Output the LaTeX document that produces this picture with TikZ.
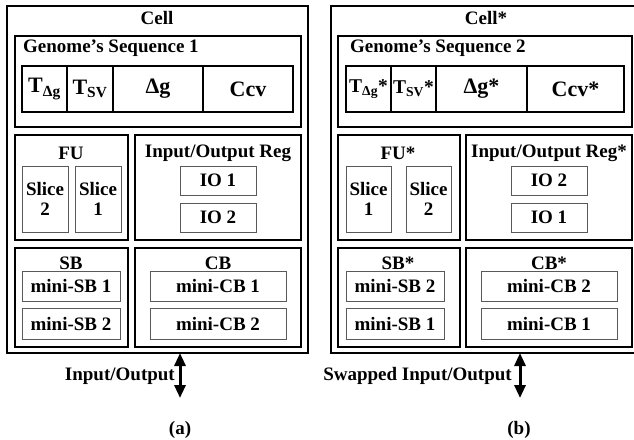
\documentclass[tikz,border=0pt]{standalone}
\usepackage{fontspec}
\setmainfont{Liberation Serif}
\usetikzlibrary{arrows.meta}
\newcommand\bx[6]{\node[#2,anchor=north west,minimum width={(#5-#3)*1pt},minimum height={(#6-#4)*1pt}] (#1) at (#3,#4) {};}
\begin{document}
\begin{tikzpicture}[x=1pt,y=-1pt,
  outerbox/.style={draw,line width=2.6pt,inner sep=0pt,outer sep=0pt},
  midbox/.style={draw,line width=1.8pt,inner sep=0pt,outer sep=0pt},
  thinbox/.style={draw=black!65,line width=1pt,inner sep=0pt,outer sep=0pt},
  lbl/.style={inner sep=0pt,font=\fontsize{19}{20}\selectfont\bfseries,align=center},
  big/.style={lbl,font=\fontsize{22}{23}\selectfont\bfseries},
  mid/.style={lbl,font=\fontsize{19.5}{21}\selectfont\bfseries},
  io/.style={line width=3pt,{Triangle[width=11pt,length=13pt]}-{Triangle[width=11pt,length=13pt]}}]
\useasboundingbox (0,0) rectangle (634,439);
\clip (0,0) rectangle (634,439);
% ---------- panel (a) ----------
\bx{cellA}{outerbox}{7}{6}{308}{353}
\node[lbl] (cellAt) at (157,18) {Cell};
\bx{genA}{midbox}{15}{36}{301}{127}
\node[lbl,anchor=west] (genAt) at (23,48) {Genome’s Sequence 1};
\bx{rowA1}{midbox}{22}{66}{67}{112}
\bx{rowA2}{midbox}{67}{66}{113}{112}
\bx{rowA3}{midbox}{113}{66}{203}{112}
\bx{rowA4}{midbox}{203}{66}{293}{112}
\node[big] (tA1) at (44.5,89) {T\textsubscript{Δg}};
\node[big] (tA2) at (90,89) {T\textsubscript{SV}};
\node[big] (tA3) at (158,89) {Δg};
\node[big] (tA4) at (248,89) {Ccv};
\bx{fuA}{midbox}{15}{135}{128}{240}
\node[lbl] (fuAt) at (71,153) {FU};
\bx{slA2}{thinbox}{22}{166}{68}{232}
\bx{slA1}{thinbox}{75}{166}{121}{232}
\node[lbl] (slA2t) at (45,199) {Slice\\2};
\node[lbl] (slA1t) at (98,199) {Slice\\1};
\bx{regA}{midbox}{135}{135}{301}{240}
\node[lbl] (regAt) at (218,153) {Input/Output Reg};
\bx{ioA1}{thinbox}{180}{166}{256}{195}
\bx{ioA2}{thinbox}{180}{203}{256}{232}
\node[lbl] (ioA1t) at (218,180.5) {IO 1};
\node[lbl] (ioA2t) at (218,217.5) {IO 2};
\bx{sbA}{midbox}{15}{248}{128}{347}
\node[lbl] (sbAt) at (71,263) {SB};
\bx{msA1}{thinbox}{22}{271}{120}{301}
\bx{msA2}{thinbox}{22}{308}{120}{339}
\node[lbl] (msA1t) at (71,286) {mini-SB 1};
\node[lbl] (msA2t) at (71,323.5) {mini-SB 2};
\bx{cbA}{midbox}{135}{248}{301}{347}
\node[lbl] (cbAt) at (218,263) {CB};
\bx{mcA1}{thinbox}{150}{271}{286}{301}
\bx{mcA2}{thinbox}{150}{308}{286}{339}
\node[lbl] (mcA1t) at (218,286) {mini-CB 1};
\node[lbl] (mcA2t) at (218,323.5) {mini-CB 2};
\coordinate (ioAend) at (180,398);
\draw[io] (cellA.south west -| ioAend) -- (ioAend);
\node[lbl,anchor=east] (ioAt) at (175,376) {Input/Output};
\node[lbl] (capA) at (180,430) {(a)};
% ---------- panel (b) ----------
\bx{cellB}{outerbox}{331}{6}{650}{353}
\node[lbl] (cellBt) at (486,18) {Cell*};
\bx{genB}{midbox}{338}{36}{632}{127}
\node[lbl,anchor=west] (genBt) at (350,48) {Genome’s Sequence 2};
\bx{rowB1}{midbox}{346}{66}{391}{112}
\bx{rowB2}{midbox}{391}{66}{436}{112}
\bx{rowB3}{midbox}{436}{66}{527}{112}
\bx{rowB4}{midbox}{527}{66}{624}{112}
\node[mid] (tB1) at (368.5,89) {T\textsubscript{Δg}*};
\node[mid] (tB2) at (413.5,89) {T\textsubscript{SV}*};
\node[big] (tB3) at (481.5,89) {Δg*};
\node[big] (tB4) at (575.5,89) {Ccv*};
\bx{fuB}{midbox}{338}{135}{460}{240}
\node[lbl] (fuBt) at (398,153) {FU*};
\bx{slB1}{thinbox}{346}{166}{391}{232}
\bx{slB2}{thinbox}{406}{166}{451}{232}
\node[lbl] (slB1t) at (368.5,199) {Slice\\1};
\node[lbl] (slB2t) at (428.5,199) {Slice\\2};
\bx{regB}{midbox}{466}{135}{632}{240}
\node[lbl] (regBt) at (549,153) {Input/Output Reg*};
\bx{ioB2}{thinbox}{511}{166}{587}{195}
\bx{ioB1}{thinbox}{511}{203}{587}{232}
\node[lbl] (ioB2t) at (549,180.5) {IO 2};
\node[lbl] (ioB1t) at (549,217.5) {IO 1};
\bx{sbB}{midbox}{338}{248}{460}{347}
\node[lbl] (sbBt) at (398,263) {SB*};
\bx{msB2}{thinbox}{346}{271}{444}{301}
\bx{msB1}{thinbox}{346}{308}{444}{339}
\node[lbl] (msB2t) at (395,286) {mini-SB 2};
\node[lbl] (msB1t) at (395,323.5) {mini-SB 1};
\bx{cbB}{midbox}{466}{248}{632}{347}
\node[lbl] (cbBt) at (549,263) {CB*};
\bx{mcB2}{thinbox}{481}{271}{617}{301}
\bx{mcB1}{thinbox}{481}{308}{617}{339}
\node[lbl] (mcB2t) at (549,286) {mini-CB 2};
\node[lbl] (mcB1t) at (549,323.5) {mini-CB 1};
\coordinate (ioBend) at (520,398);
\draw[io] (cellB.south west -| ioBend) -- (ioBend);
\node[lbl,anchor=east] (ioBt) at (512,376) {Swapped Input/Output};
\node[lbl] (capB) at (519,430) {(b)};
\end{tikzpicture}
\end{document}
